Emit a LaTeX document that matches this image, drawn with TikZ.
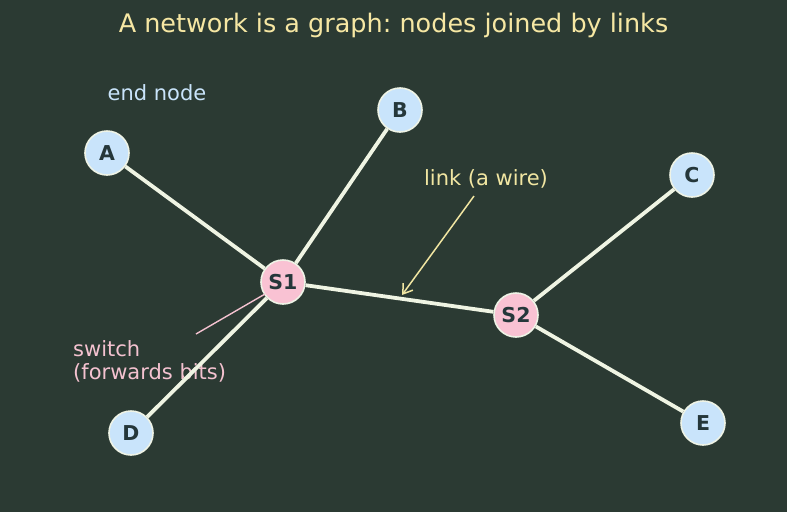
\documentclass[tikz,border=0pt]{standalone}
\usepackage{fontspec}
\setmainfont{DejaVu Sans}
\frenchspacing
\usetikzlibrary{arrows.meta,backgrounds}
\definecolor{bg}{HTML}{2B3A33}
\definecolor{endfill}{HTML}{C9E4FB}
\definecolor{swfill}{HTML}{F9C2D3}
\definecolor{ringc}{HTML}{EEF3E6}
\definecolor{nodetext}{HTML}{25373A}
\definecolor{edgec}{HTML}{EFF4E3}
\definecolor{titlec}{HTML}{F6E7A3}
\definecolor{bluelab}{HTML}{C9E4FB}
\definecolor{yellab}{HTML}{F1E6A2}
\definecolor{pinklab}{HTML}{F4C2D0}
\tikzset{
  basenode/.style={circle, draw=ringc, line width=1.6pt, minimum size=44pt, inner sep=0pt,
    font=\fontsize{20.5}{24}\selectfont\bfseries, text=nodetext},
  endnode/.style={basenode, fill=endfill},
  swnode/.style={basenode, fill=swfill},
  linkline/.style={draw=edgec, line width=3.8pt},
  lab/.style={font=\fontsize{21}{24}\selectfont, inner sep=0pt},
}
\begin{document}
\begin{tikzpicture}[x=1pt, y=-1pt]
\useasboundingbox (0,0) rectangle (787,512);
\node[lab, text=titlec, font=\fontsize{25.5}{28}\selectfont] (title) at (393.5,25) {A network is a graph: nodes joined by links};
\node[endnode] (A) at (107,153) {A};
\node[endnode] (B) at (400,110) {B};
\node[endnode] (C) at (692,175) {C};
\node[endnode] (D) at (131,433) {D};
\node[endnode] (E) at (703,423) {E};
\node[swnode] (S1) at (283,282) {S1};
\node[swnode] (S2) at (516,315) {S2};
\begin{scope}[on background layer]
\fill[bg] (0,0) rectangle (787,512);
\node[lab, text=pinklab, anchor=north west, align=left, font=\fontsize{21}{23.5}\selectfont] (swlab) at (73,340) {switch\\(forwards bits)};
\path[linkline] (A) -- (S1) (B) -- (S1) (D) -- (S1) (S1) -- (S2) (S2) -- (C) (S2) -- (E);
\end{scope}
\node[lab, text=bluelab] (endlab) at (157,93) {end node};
\node[lab, text=yellab] (linklab) at (486,179) {link (a wire)};
\coordinate (linktail) at (474,196);
\coordinate (linktip) at (402,295);
\draw[yellab, line width=1.5pt, -{Straight Barb[length=9pt, width=12pt, line width=1.5pt]}] (linktail) -- (linktip);
\coordinate (swtail) at (196,334);
\coordinate (swtip) at (265,294);
\draw[pinklab, line width=1.4pt] (swtail) -- (swtip);
\end{tikzpicture}
\end{document}
